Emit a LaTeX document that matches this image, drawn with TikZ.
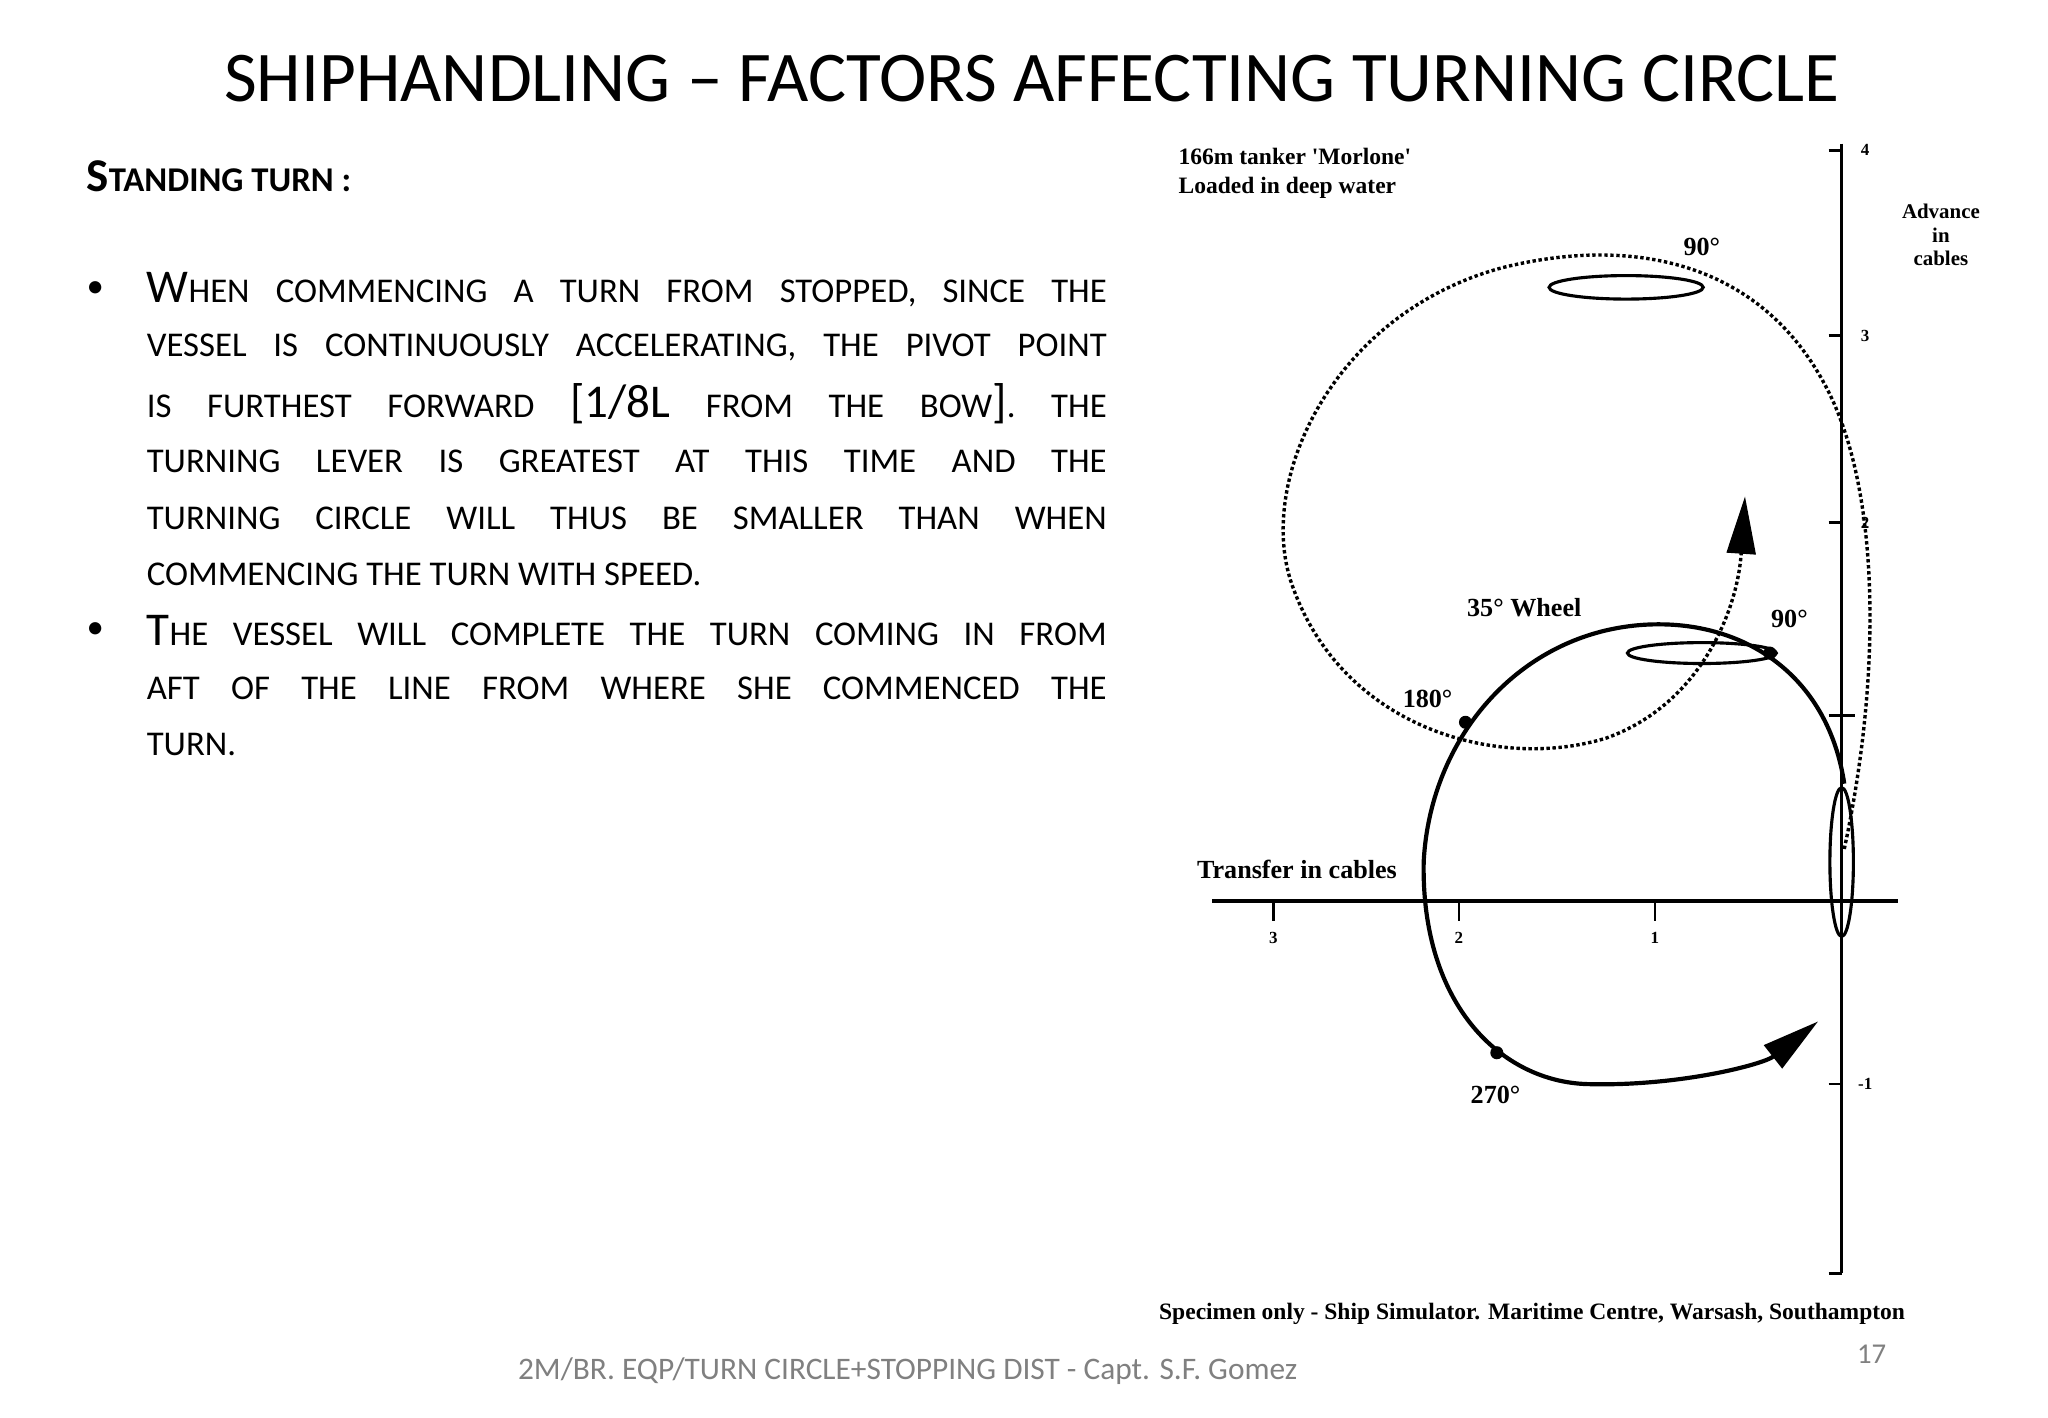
\documentclass[tikz,border=0pt]{standalone}
\usepackage{fontspec}
\setmainfont{Carlito}
\newfontfamily\tnr{Liberation Serif}
\usetikzlibrary{arrows.meta}
\newcommand\bl[1]{{\fontsize{18}{18}\selectfont #1}}
\newcommand\jl[1]{\makebox[367.5pt][s]{#1}}
\begin{document}
\begin{tikzpicture}[x=0.5pt,y=-0.5pt,
  body/.style={anchor=west,inner sep=0pt,font=\fontsize{13.3}{15}\selectfont},
  dlab/.style={font=\tnr\bfseries\fontsize{10}{11}\selectfont,inner sep=0pt},
  ticklab/.style={font=\tnr\bfseries\fontsize{6.5}{7}\selectfont,inner sep=0pt},
  big/.style={-{Triangle[length=22pt,width=11pt]}}]
\useasboundingbox[fill=white] (0,0) rectangle (1568,1085);
\node[inner sep=0pt,font=\fontsize{27.3}{30}\selectfont] (title) at (790,60) {SHIPHANDLING – FACTORS AFFECTING TURNING CIRCLE};
\node[anchor=west,inner sep=0pt,font=\bfseries\fontsize{13.3}{15}\selectfont] (st) at (66,135) {\bl{S}TANDING TURN :};
\node[body] (b1) at (66,222) {•};
\node[body] (b2) at (66,483) {•};
\node[body] (l1) at (112,222) {\jl{\bl{W}HEN COMMENCING A TURN FROM STOPPED, SINCE THE}};
\node[body] (l2) at (112,266) {\jl{VESSEL IS CONTINUOUSLY ACCELERATING, THE PIVOT POINT}};
\node[body] (l3) at (112,309) {\jl{IS FURTHEST FORWARD \bl{[1/8L} FROM THE BOW\bl{]}. THE}};
\node[body] (l4) at (112,353) {\jl{TURNING LEVER IS GREATEST AT THIS TIME AND THE}};
\node[body] (l5) at (112,397) {\jl{TURNING CIRCLE WILL THUS BE SMALLER THAN WHEN}};
\node[body] (l6) at (112,440) {COMMENCING THE TURN WITH SPEED.};
\node[body] (l7) at (112,483) {\jl{\bl{T}HE VESSEL WILL COMPLETE THE TURN COMING IN FROM}};
\node[body] (l8) at (112,527) {\jl{AFT OF THE LINE FROM WHERE SHE COMMENCED THE}};
\node[body] (l9) at (112,570) {TURN.};
% axes
\draw[line width=1.2pt] (1410,110) -- (1410,975);
\draw[line width=1.5pt] (928,690) -- (1453,690);
\foreach \y/\t in {115/4,257/3,400/2,830/-1}{
  \draw[line width=1pt] (1400,\y) -- (1410,\y);
  \node[ticklab] at (1428,\y) {\t};}
\draw[line width=1pt] (1400,548) -- (1420,548);
\draw[line width=1pt] (1400,975) -- (1410,975);
\foreach \x/\t in {975/3,1117/2,1267/1}{
  \draw[line width=1pt] (\x,690) -- (\x,705);
  \node[ticklab] at (\x,718) {\t};}
\node[dlab,align=left,anchor=north west,font=\tnr\bfseries\fontsize{9}{11}\selectfont] (ship1lab) at (902,113) {166m tanker 'Morlone'\\Loaded in deep water};
\node[dlab,align=center,font=\tnr\bfseries\fontsize{8}{9}\selectfont] (adv) at (1486,180) {Advance\\in\\cables};
\node[dlab] (tr) at (993,666) {Transfer in cables};
\node[dlab] (w35) at (1167,465) {35° Wheel};
\node[dlab] (n90a) at (1303,189) {90°};
\node[dlab] (n90b) at (1370,474) {90°};
\node[dlab] (n180) at (1093,535) {180°};
\node[dlab] (n270) at (1145,838) {270°};
% dashed path
\draw[densely dotted,line width=1.3pt,big] (1412,650) .. controls (1440,520) and (1440,380) .. (1400,300)
  .. controls (1350,200) and (1250,180) .. (1150,205)
  .. controls (1020,240) and (960,370) .. (990,450)
  .. controls (1030,560) and (1150,590) .. (1230,565)
  .. controls (1300,540) and (1330,470) .. (1336,380);
% solid path
\draw[line width=1.6pt,big] (1412,600) .. controls (1400,520) and (1340,478) .. (1270,478)
  .. controls (1170,478) and (1095,560) .. (1090,660)
  .. controls (1088,770) and (1150,828) .. (1215,830)
  .. controls (1285,832) and (1350,815) .. (1392,782);
\fill (1122,553) circle (5) (1355,500) circle (5) (1146,806) circle (5);
% ships
\draw[line width=1.2pt] (1245,220) ellipse (59 and 9);
\draw[line width=1.2pt] (1303,500) ellipse (57 and 8);
\draw[line width=1.2pt] (1410,660) ellipse (9 and 57);
\node[dlab,font=\tnr\bfseries\fontsize{9}{10}\selectfont] (spec) at (1173,1006) {Specimen only - Ship Simulator. Maritime Centre, Warsash, Southampton};
\node[inner sep=0pt,text=gray,font=\fontsize{12}{13}\selectfont] (foot) at (695,1050) {2M/BR. EQP/TURN CIRCLE+STOPPING DIST - Capt. S.F. Gomez};
\node[inner sep=0pt,text=gray,font=\fontsize{11}{12}\selectfont] (pg) at (1433,1037) {17};
\end{tikzpicture}
\end{document}
